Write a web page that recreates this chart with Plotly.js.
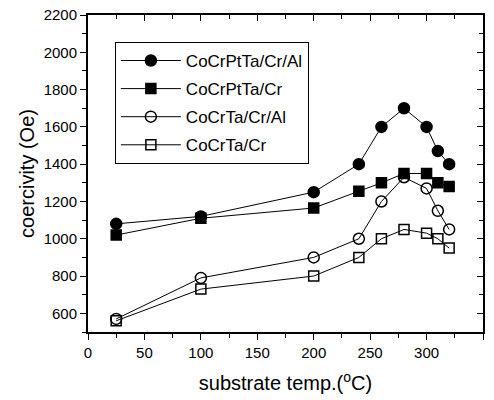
<!DOCTYPE html>
<html>
<head>
<meta charset="utf-8">
<script src="https://cdn.plot.ly/plotly-3.0.1.min.js"></script>
<style>html,body{margin:0;padding:0;background:#fff;}#chart{width:494px;height:400px;}</style>
</head>
<body>
<div id="chart"></div>
<script>
const temps = [25, 100, 200, 240, 260, 280, 300, 310, 320];
const seriesNames = ["CoCrPtTa/Cr/Al", "CoCrPtTa/Cr", "CoCrTa/Cr/Al", "CoCrTa/Cr"];
const coCrPtTaCrAl = [1080, 1120, 1250, 1400, 1600, 1700, 1600, 1470, 1400];
const coCrPtTaCr   = [1020, 1110, 1165, 1255, 1300, 1350, 1350, 1300, 1280];
const coCrTaCrAl   = [570, 790, 900, 1000, 1200, 1330, 1270, 1150, 1050];
const coCrTaCr     = [560, 730, 800, 900, 1000, 1050, 1030, 1000, 950];

const symbols = ["circle", "square", "circle-open", "square-open"];
const values = [coCrPtTaCrAl, coCrPtTaCr, coCrTaCrAl, coCrTaCr];

const traces = values.map((v, i) => ({
  x: temps, y: v, name: seriesNames[i], type: "scatter", mode: "lines+markers",
  legendgroup: "g" + i,
  line: {color: "#000", width: 1},
  marker: {symbol: symbols[i], size: i % 2 === 0 ? 11 : 10, color: "#000",
           line: {color: "#000", width: 1.5}}
}));
// helper trace for mirrored inner-tick axes
traces.push({x: [0], y: [500], xaxis: "x2", yaxis: "y2", mode: "markers",
  marker: {opacity: 0}, showlegend: false, hoverinfo: "skip"});

const font = {family: "Liberation Sans, Arial, sans-serif", color: "#000"};
const layout = {
  width: 494, height: 400,
  margin: {l: 88, r: 11, t: 15, b: 68},
  paper_bgcolor: "#fff", plot_bgcolor: "#fff",
  font: font,
  showlegend: true,
  legend: {x: 0.068, y: 0.915, xanchor: "left", yanchor: "top",
    bordercolor: "#000", borderwidth: 1, bgcolor: "#fff",
    font: {family: font.family, size: 17, color: "#000"},
    tracegroupgap: 3, itemwidth: 60, entrywidth: 205},
  xaxis: {range: [0, 350], tickvals: [0,50,100,150,200,250,300,350],
    ticks: "outside", ticklen: 6, tickwidth: 1, tickcolor: "#000",
    minor: {dtick: 25, tick0: 0, ticks: "outside", ticklen: 4, tickcolor: "#000"},
    showline: true, linecolor: "#000", linewidth: 2, showgrid: false, zeroline: false,
    tickfont: {size: 15, color: "#000"},
    title: {text: "substrate temp.(<sup>o</sup>C)", font: {size: 20, color: "#000"}, standoff: 16}},
  yaxis: {range: [500, 2200], tickvals: [600,800,1000,1200,1400,1600,1800,2000,2200],
    ticks: "outside", ticklen: 6, tickwidth: 1, tickcolor: "#000",
    minor: {dtick: 100, tick0: 0, ticks: "outside", ticklen: 4, tickcolor: "#000"},
    showline: true, linecolor: "#000", linewidth: 2, showgrid: false, zeroline: false,
    tickfont: {size: 15, color: "#000"},
    title: {text: "coercivity (Oe)", font: {size: 20, color: "#000"}, standoff: 4}},
  xaxis2: {range: [0, 350], overlaying: "x", side: "top", anchor: "y2",
    tickvals: [0,50,100,150,200,250,300,350], showticklabels: false,
    ticks: "inside", ticklen: 6, tickcolor: "#000",
    minor: {dtick: 25, tick0: 0, ticks: "inside", ticklen: 4, tickcolor: "#000"},
    showline: true, linecolor: "#000", linewidth: 2, showgrid: false, zeroline: false},
  yaxis2: {range: [500, 2200], overlaying: "y", side: "right", anchor: "x2",
    tickvals: [600,800,1000,1200,1400,1600,1800,2000,2200], showticklabels: false,
    ticks: "inside", ticklen: 6, tickcolor: "#000",
    minor: {dtick: 100, tick0: 0, ticks: "inside", ticklen: 4, tickcolor: "#000"},
    showline: true, linecolor: "#000", linewidth: 2, showgrid: false, zeroline: false}
};
Plotly.newPlot("chart", traces, layout, {staticPlot: true, displayModeBar: false});
</script>
</body>
</html>
